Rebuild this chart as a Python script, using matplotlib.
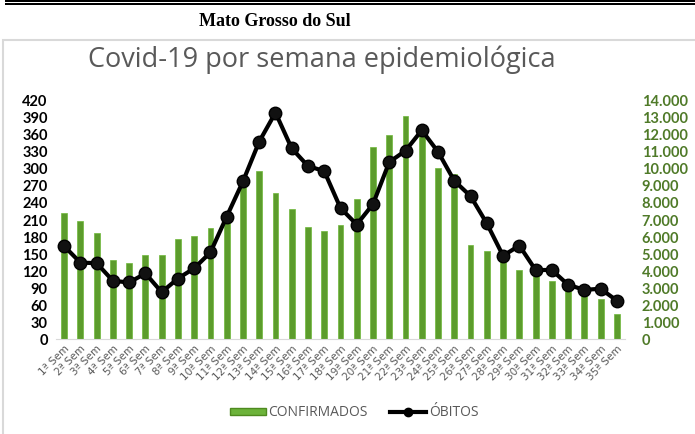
import matplotlib
matplotlib.use("Agg")
import matplotlib.pyplot as plt
from matplotlib.patches import Patch, Rectangle
from matplotlib.lines import Line2D
from matplotlib.ticker import FuncFormatter

# weekly data
semanas = [f"{i}ª Sem" for i in range(1, 36)]
confirmados = [7400, 6920, 6220, 4640, 4460, 4950, 4950, 5870, 6060, 6530,
               6900, 8950, 9880, 8570, 7650, 6590, 6340, 6690, 8220, 11270,
               11990, 13100, 12150, 10030, 9680, 5520, 5160, 4700, 4050, 3800,
               3400, 2950, 2700, 2350, 1470]
obitos = [164, 135, 134, 103, 100, 116, 83, 107, 125, 153,
          216, 278, 348, 399, 336, 305, 296, 231, 202, 238,
          312, 332, 368, 330, 279, 252, 204, 147, 165, 122,
          122, 96, 87, 89, 68]

W, H = 695, 434
fig = plt.figure(figsize=(W / 100, H / 100), dpi=100)

# double rule at the top
fig.add_artist(Rectangle((5 / W, 1 - 1.5 / H), 1, 1.5 / H, transform=fig.transFigure,
                         color="black", lw=0))
fig.add_artist(Rectangle((5 / W, 1 - 5 / H), 1, 2 / H, transform=fig.transFigure,
                         color="black", lw=0))
# chart frame
fig.add_artist(Rectangle((3.5 / W, -0.1), 1, 1.1 - 40 / H, transform=fig.transFigure,
                         fill=False, ec="#d9d9d9", lw=1.5))

fig.text(275 / W, 1 - 21 / H, "Mato Grosso do Sul", ha="center", va="center",
         fontsize=13, fontweight="bold", family="Liberation Serif")
fig.text(322 / W, 1 - 60 / H, "Covid-19 por semana epidemiológica", ha="center",
         va="center", fontsize=19.5, color="#595959", family="Open Sans")

ax = fig.add_axes([56 / W, (H - 339.3) / H, 569 / W, 238.6 / H])
ax2 = ax.twinx()
ax.set_zorder(ax2.get_zorder() + 1)
ax.patch.set_visible(False)

x = range(len(semanas))
ax2.bar(x, confirmados, width=0.36, color="#5c9c2c", edgecolor="#6fb83a", lw=0.5)
ax.plot(x, obitos, color="black", lw=3, marker="o", markersize=9,
        markerfacecolor="#111111", markeredgecolor="black")

ax.set_xlim(-0.5, len(semanas) - 0.5)
ax.set_ylim(0, 420)
ax.set_yticks(range(0, 421, 30))
ax2.set_ylim(0, 14000)
ax2.set_yticks(range(0, 14001, 1000))
ax2.yaxis.set_major_formatter(FuncFormatter(lambda v, p: f"{int(v):,}".replace(",", ".")))

for s in ["top", "left", "right"]:
    ax.spines[s].set_visible(False)
    ax2.spines[s].set_visible(False)
ax.spines["bottom"].set_color("#d9d9d9")
ax2.spines["bottom"].set_visible(False)

ax.tick_params(axis="y", length=0, pad=6, labelsize=10.5)
ax2.tick_params(axis="y", length=0, pad=12, labelsize=10.5, labelcolor="#4f7a28")
for lab in ax.get_yticklabels() + ax2.get_yticklabels():
    lab.set_fontweight("bold")
    lab.set_family("Lato")

ax.set_xticks(list(x))
ax.set_xticklabels(semanas, rotation=45, ha="right", rotation_mode="anchor",
                   fontsize=7.5, color="#595959")
ax.tick_params(axis="x", length=0, pad=3)

handles = [Patch(facecolor="#6cb33a", edgecolor="#4e8a1f"),
           Line2D([], [], color="black", lw=3, marker="o", markersize=6)]
fig.legend(handles, ["CONFIRMADOS", "ÓBITOS"], loc="center",
           bbox_to_anchor=(354 / W, 1 - 413 / H), ncol=2, frameon=False,
           labelcolor="#595959", handlelength=2.6, handleheight=0.4,
           handletextpad=0.2, columnspacing=1.6, prop={"family": "Open Sans", "size": 10})

fig.savefig("out.png", dpi=100)
